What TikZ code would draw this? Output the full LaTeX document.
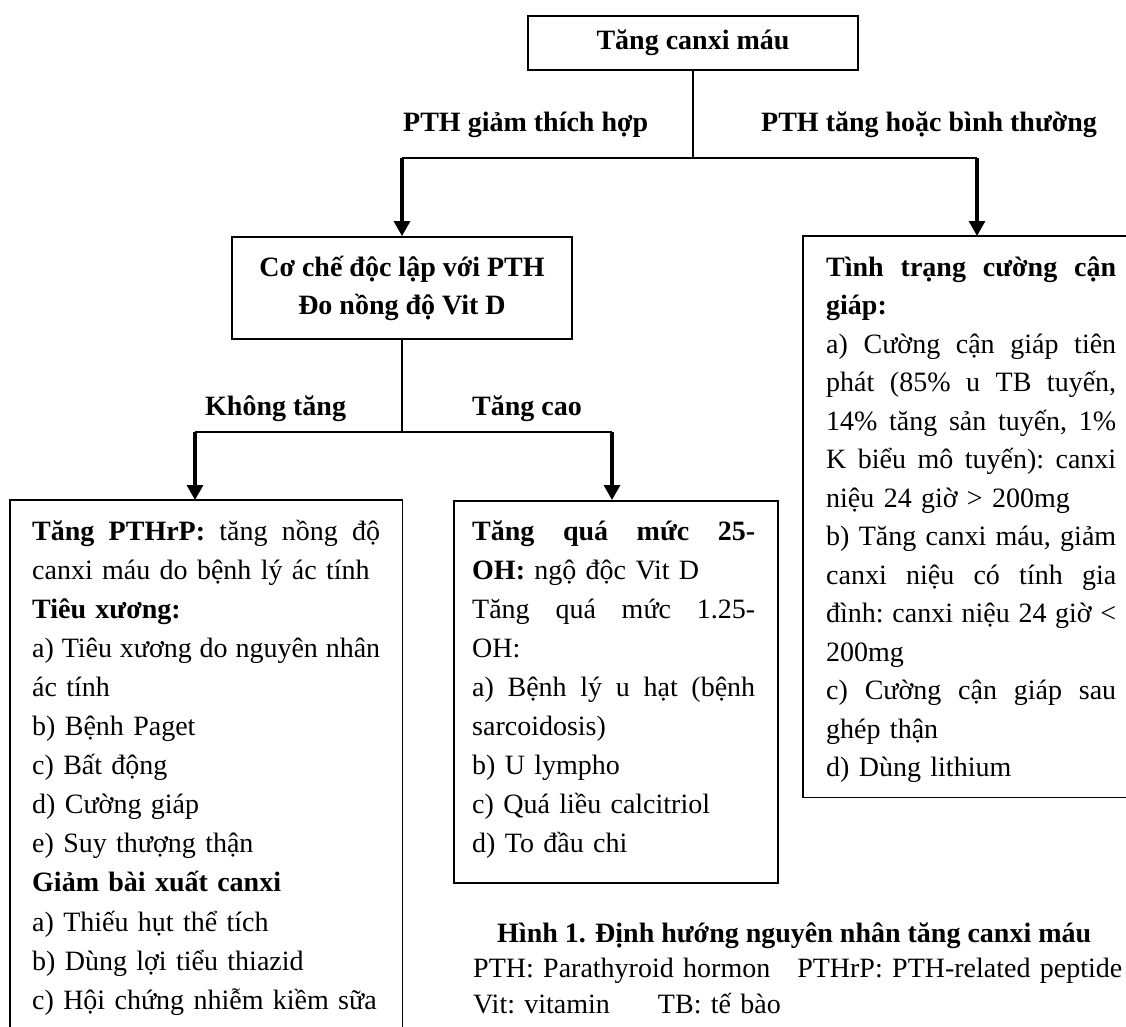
\documentclass[tikz,border=0pt]{standalone}
\usepackage{fontspec}
\setmainfont{Liberation Serif}
\usetikzlibrary{arrows.meta}
% one justified line, spread to the full text width
\newcommand{\jl}[1]{\hbox to\hsize{\frenchspacing\spaceskip=.25em plus 1fil\relax #1}}
\begin{document}
\begin{tikzpicture}[x=1pt,y=-1pt,
  frame/.style={line width=1.8pt},
  box/.style={draw, frame, inner sep=0pt},
  shell/.style={inner sep=0pt, anchor=north west},
  link/.style={line width=1.7pt},
  arr/.style={line width=3.2pt, -{Triangle[width=16pt,length=15pt]}},
  txt/.style={inner sep=0pt, anchor=base west, align=left,
    font=\fontsize{28}{39.1}\selectfont\frenchspacing},
  lbl/.style={inner sep=0pt, anchor=base west,
    font=\fontsize{28}{34}\selectfont\bfseries},
]
\useasboundingbox[fill=white] (0,0) rectangle (1126,1027);

% root
\node[box, minimum width=330pt, minimum height=54pt,
  font=\fontsize{28}{34}\selectfont\bfseries] (top) at (693,43) {Tăng canxi máu};

% second level
\node[box, minimum width=340pt, minimum height=102pt, align=center,
  font=\fontsize{28}{38}\selectfont\bfseries] (cc) at (402,288)
  {Cơ chế độc lập với PTH\\Đo nồng độ Vit D};

\node[shell, minimum width=323pt, minimum height=561pt] (rb) at (803,236) {};
\draw[frame] (rb.north east) -- (rb.north west) -- (rb.south west) -- (rb.south east);
\node[txt, text width=290pt, font=\fontsize{28}{38.5}\selectfont] (rbt) at (826,276) {%
\jl{\textbf{Tình trạng cường cận}}\par
\textbf{giáp:}\par
\jl{a) Cường cận giáp tiên}\par
\jl{phát (85\% u TB tuyến,}\par
\jl{14\% tăng sản tuyến, 1\%}\par
\jl{K biểu mô tuyến): canxi}\par
niệu 24 giờ > 200mg\par
\jl{b) Tăng canxi máu, giảm}\par
\jl{canxi niệu có tính gia}\par
\jl{đình: canxi niệu 24 giờ <}\par
200mg\par
\jl{c) Cường cận giáp sau}\par
ghép thận\par
d) Dùng lithium};

% third level
\node[shell, minimum width=392pt, minimum height=527pt] (lb) at (10,500) {};
\draw[frame] (lb.south west) -- (lb.north west) -- (lb.north east) -- (lb.south east);
\node[txt, text width=348pt] (lbt) at (32,540) {%
\jl{\textbf{Tăng PTHrP:} tăng nồng độ}\par
canxi máu do bệnh lý ác tính\par
\textbf{Tiêu xương:}\par
\jl{a) Tiêu xương do nguyên nhân}\par
ác tính\par
b) Bệnh Paget\par
c) Bất động\par
d) Cường giáp\par
e) Suy thượng thận\par
\textbf{Giảm bài xuất canxi}\par
a) Thiếu hụt thể tích\par
b) Dùng lợi tiểu thiazid\par
c) Hội chứng nhiễm kiềm sữa};

\node[box, shell, minimum width=324pt, minimum height=382pt] (mb) at (453,500) {};
\node[txt, text width=283pt] (mbt) at (472,540) {%
\jl{\textbf{Tăng quá mức 25-}}\par
\textbf{OH:} ngộ độc Vit D\par
\jl{Tăng quá mức 1.25-}\par
OH:\par
\jl{a) Bệnh lý u hạt (bệnh}\par
sarcoidosis)\par
b) U lympho\par
c) Quá liều calcitriol\par
d) To đầu chi};

% branch labels
\node[lbl] (l1) at (403,132) {PTH giảm thích hợp};
\node[lbl] (l2) at (761,132) {PTH tăng hoặc bình thường};
\node[lbl] (l3) at (205,415) {Không tăng};
\node[lbl] (l4) at (472,415) {Tăng cao};

% connectors, first split
\coordinate (j1) at (693,158);
\coordinate (j1l) at (402,158);
\coordinate (j1r) at (977,158);
\draw[link] (top.south) -- (j1);
\draw[link] (j1l) -- (j1r);
\draw[arr] (j1l) -- (cc.north);
\draw[arr] (j1r) -- (j1r |- rb.north);

% connectors, second split
\coordinate (j2) at (402,432);
\coordinate (j2l) at (195,432);
\coordinate (j2r) at (612,432);
\draw[link] (cc.south) -- (j2);
\draw[link] (j2l) -- (j2r);
\draw[arr] (j2l) -- (j2l |- lb.north);
\draw[arr] (j2r) -- (j2r |- mb.north);

% caption and abbreviations
\node[lbl] (cap) at (497,942) {Hình 1. Định hướng nguyên nhân tăng canxi máu};
\node[txt, text width=650pt, font=\fontsize{28}{36}\selectfont\frenchspacing] (abbr) at (473,977)
  {PTH: Parathyroid hormon\hspace{27pt}PTHrP: PTH-related peptide\par
   Vit: vitamin\hspace{48pt}TB: tế bào};
\end{tikzpicture}
\end{document}
